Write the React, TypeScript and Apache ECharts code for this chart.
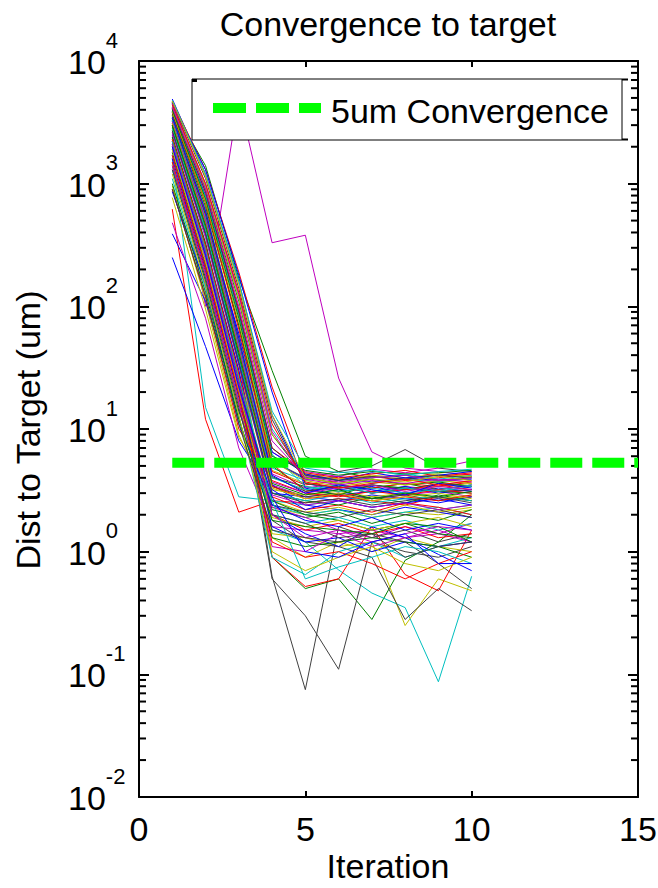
import React, { useEffect, useRef } from "react";
import * as echarts from "echarts";

// ---------- data ----------
const iterations = [1, 2, 3, 4, 5, 6, 7, 8, 9, 10];

const blueRuns = [
  [4900, 1200, 160, 13, 3.6, 3.2, 3.4, 3.0, 3.3, 3.1],
  [250, 47, 8, 3.0, 2.8, 2.6, 2.9, 2.7, 2.5, 2.8],
  [390, 110, 14, 3.5, 2.4, 2.2, 2.0, 2.3, 2.1, 1.9],
  [3200, 520, 60, 5.5, 3.9, 4.1, 3.7, 4.0, 3.8, 3.9],
  [2200, 300, 30, 2.0, 1.4, 1.1, 1.6, 1.3, 0.95, 0.7],
  [3900, 800, 90, 6.5, 4.3, 3.8, 4.4, 4.0, 4.2, 4.5],
  [1600, 200, 18, 1.6, 1.2, 1.3, 1.0, 1.2, 1.1, 1.2],
  [4500, 1300, 180, 20, 3.3, 2.9, 3.1, 3.4, 3.0, 3.2],
  [2600, 380, 35, 3.2, 2.2, 2.6, 2.3, 2.5, 2.7, 2.4],
  [860, 150, 11, 2.4, 1.8, 1.6, 1.9, 1.5, 1.7, 1.5],
  [3500, 600, 55, 4.2, 3.0, 3.5, 3.2, 2.9, 3.6, 3.3],
  [2000, 260, 22, 2.8, 1.0, 0.9, 1.2, 1.4, 0.8, 0.8],
];

const greenRuns = [
  [4200, 1400, 170, 30, 6.0, 4.5, 4.0, 4.2, 3.8, 4.1],
  [2400, 330, 25, 0.9, 0.5, 0.6, 0.28, 0.85, 1.2, 2.0],
  [3300, 500, 45, 4.0, 3.4, 3.1, 3.3, 3.6, 3.2, 3.5],
  [1800, 220, 20, 2.2, 1.9, 2.1, 1.7, 2.0, 1.8, 2.2],
  [4600, 900, 110, 9.0, 4.0, 3.6, 3.9, 3.5, 3.7, 3.4],
  [2900, 420, 38, 3.0, 2.6, 2.4, 2.8, 2.5, 2.9, 2.6],
  [1400, 170, 15, 1.3, 1.1, 1.2, 1.3, 1.2, 1.1, 0.9],
  [3700, 650, 70, 5.0, 3.2, 2.9, 3.5, 3.3, 3.1, 3.0],
  [2100, 280, 24, 2.6, 2.0, 1.8, 1.5, 1.7, 1.4, 1.3],
  [4000, 750, 80, 6.0, 4.6, 4.2, 4.5, 4.3, 4.4, 4.6],
  [1000, 130, 12, 1.8, 1.6, 1.5, 1.4, 1.7, 1.6, 1.2],
  [3000, 460, 42, 3.6, 2.9, 3.2, 2.7, 3.0, 2.8, 3.1],
];

const redRuns = [
  [620, 12, 2.1, 2.6, 2.5, 2.7, 2.6, 2.4, 2.8, 2.6],
  [4700, 1300, 190, 22, 4.2, 3.9, 4.1, 3.8, 4.0, 4.3],
  [2700, 400, 36, 0.9, 0.52, 0.6, 1.6, 0.65, 0.48, 1.5],
  [3400, 550, 50, 4.5, 3.5, 3.8, 3.3, 3.6, 3.4, 3.7],
  [1500, 190, 16, 2.8, 2.2, 2.4, 2.1, 2.5, 2.3, 2.0],
  [4100, 850, 95, 7.0, 4.4, 4.0, 4.3, 4.6, 4.1, 4.4],
  [2300, 310, 28, 2.0, 1.5, 1.7, 1.4, 1.6, 1.3, 1.4],
  [3800, 700, 65, 5.2, 3.1, 3.4, 3.0, 3.2, 3.5, 3.2],
  [900, 120, 10, 3.8, 3.0, 2.8, 3.1, 2.9, 3.2, 3.0],
  [3100, 480, 44, 3.4, 2.7, 2.9, 2.6, 2.8, 2.6, 2.9],
  [1700, 210, 19, 1.2, 0.9, 1.0, 0.8, 0.6, 0.8, 1.0],
  [4400, 1000, 130, 11, 3.7, 3.3, 3.6, 3.9, 3.5, 3.8],
];

const cyanRuns = [
  [1600, 15, 2.8, 2.6, 2.4, 2.6, 2.3, 2.5, 2.2, 2.4],
  [3000, 450, 40, 1.5, 1.2, 0.71, 0.46, 0.35, 0.087, 0.63],
  [3600, 600, 55, 4.8, 3.8, 4.1, 3.6, 3.9, 3.7, 4.0],
  [2000, 250, 22, 2.4, 2.0, 2.2, 1.9, 2.1, 2.3, 2.0],
  [4300, 950, 120, 10, 4.2, 3.8, 4.0, 4.3, 3.9, 4.2],
  [1300, 160, 13, 0.9, 0.65, 1.0, 1.2, 0.9, 1.1, 1.3],
  [2800, 420, 37, 3.0, 2.6, 2.9, 2.5, 2.7, 2.8, 2.6],
  [3900, 780, 85, 6.2, 3.4, 3.1, 3.3, 3.0, 3.2, 3.5],
  [1100, 140, 12, 2.0, 1.7, 1.9, 1.6, 1.8, 1.5, 1.7],
  [3300, 520, 48, 4.0, 3.2, 3.5, 3.0, 3.3, 3.1, 3.4],
  [2200, 290, 26, 2.6, 0.6, 0.75, 0.9, 1.1, 1.0, 0.8],
  [4800, 1200, 160, 14, 4.8, 4.4, 4.6, 4.2, 4.5, 4.7],
];

const magentaRuns = [
  [2500, 100, 5000, 330, 380, 26, 6.5, 4.8, 4.5, 4.2],
  [3000, 450, 42, 3.5, 2.8, 3.0, 2.7, 2.9, 3.1, 2.8],
  [480, 80, 7, 1.6, 1.5, 1.4, 1.5, 1.3, 1.4, 1.2],
  [4000, 800, 85, 6.5, 4.5, 4.1, 4.7, 4.4, 4.8, 5.5],
  [1900, 240, 21, 2.3, 1.9, 1.5, 1.3, 1.6, 1.4, 1.7],
  [3500, 580, 52, 4.3, 3.3, 3.6, 3.1, 3.4, 3.2, 3.5],
  [1400, 180, 16, 1.1, 1.0, 1.4, 1.1, 1.3, 1.5, 1.2],
  [4500, 1000, 125, 9.5, 3.9, 3.5, 3.8, 3.6, 3.9, 3.7],
  [2600, 360, 33, 2.9, 2.4, 2.6, 2.3, 2.5, 2.2, 2.4],
  [3200, 500, 46, 3.7, 3.0, 3.3, 3.5, 3.1, 3.4, 3.2],
  [2100, 270, 24, 2.0, 1.3, 1.5, 1.2, 1.4, 1.6, 1.5],
  [4200, 900, 100, 8.0, 4.1, 3.7, 4.0, 4.2, 3.8, 4.0],
];

const yellowRuns = [
  [960, 110, 9, 2.3, 2.0, 2.2, 1.9, 2.1, 2.0, 2.2],
  [2800, 400, 38, 1.4, 1.3, 1.1, 1.2, 0.25, 0.6, 0.48],
  [3600, 620, 58, 4.6, 3.6, 3.3, 3.5, 3.2, 3.4, 3.6],
  [1500, 180, 17, 1.3, 0.9, 1.2, 1.0, 1.3, 1.1, 1.0],
  [4400, 950, 115, 9.0, 4.3, 3.9, 4.2, 4.0, 4.3, 4.1],
  [2300, 300, 27, 2.6, 2.1, 2.3, 2.0, 2.4, 2.1, 2.3],
  [770, 95, 8.5, 3.2, 2.9, 3.1, 2.8, 3.0, 2.7, 2.9],
  [3900, 720, 75, 5.5, 3.8, 3.4, 3.7, 3.5, 3.8, 3.6],
  [1900, 230, 20, 1.9, 1.6, 1.8, 1.5, 1.7, 1.9, 1.6],
  [3100, 470, 43, 3.3, 2.7, 3.0, 2.6, 2.8, 3.0, 2.7],
  [1200, 150, 13, 1.0, 0.7, 0.9, 1.1, 0.8, 0.7, 0.9],
  [4700, 1150, 150, 13, 4.0, 3.6, 3.9, 3.7, 4.1, 3.8],
];

const grayRuns = [
  [2400, 320, 30, 0.63, 0.075, 1.6, 1.3, 1.5, 1.2, 1.4],
  [2000, 260, 24, 0.6, 0.3, 0.11, 1.2, 1.0, 0.9, 1.1],
  [3800, 700, 70, 5.5, 4.0, 4.5, 5.0, 6.8, 4.8, 4.5],
  [1700, 210, 19, 1.8, 1.2, 1.1, 0.9, 0.28, 0.5, 0.33],
  [3000, 440, 40, 3.4, 2.8, 3.0, 2.7, 2.9, 2.6, 2.8],
  [4600, 1100, 140, 12, 3.6, 3.3, 3.5, 3.2, 3.6, 3.4],
  [1300, 160, 14, 2.4, 2.1, 1.9, 2.2, 2.0, 2.2, 1.9],
  [3400, 560, 50, 4.1, 3.1, 3.4, 3.0, 3.3, 3.1, 3.2],
  [2200, 280, 25, 2.0, 1.7, 1.3, 1.4, 1.2, 0.8, 0.5],
  [4100, 860, 90, 7.0, 4.2, 3.8, 4.1, 3.9, 4.2, 4.0],
  [900, 120, 11, 1.5, 1.3, 1.2, 1.4, 0.9, 1.1, 1.2],
  [2700, 390, 34, 3.0, 2.5, 2.7, 2.4, 2.6, 2.8, 2.5],
];

const convergenceLevel = 5.3;
const convergenceIterations = [1, 15];

const xRange = [0, 15];
const xStep = 5;
const yRange = [0.01, 10000];
const decades = [-2, -1, 0, 1, 2, 3];
const minorMultipliers = [2, 3, 4, 5, 6, 7, 8, 9];

const titleText = "Convergence to target";
const xName = "Iteration";
const yName = "Dist to Target (um)";
const legendName = "5um Convergence";

// ---------- styles ----------
const FONT = "'Liberation Sans', Arial, Helvetica, sans-serif";
const matlabColors = ["#0000ff", "#008000", "#ff0000", "#00bfbf", "#bf00bf", "#bfbf00", "#404040"];

export default function App() {
  const ref = useRef<HTMLDivElement>(null);

  useEffect(() => {
    if (!ref.current) return;
    const chart = echarts.init(ref.current, null, { renderer: "svg" });

    const groups = [blueRuns, greenRuns, redRuns, cyanRuns, magentaRuns, yellowRuns, grayRuns];
    const maxLen = Math.max(...groups.map((g) => g.length));
    const runSeries: any[] = [];
    for (let i = 0; i < maxLen; i++) {
      groups.forEach((g, c) => {
        const run = g[i];
        if (!run) return;
        runSeries.push({
          type: "line",
          data: run.map((v, k) => [iterations[k], v]),
          symbol: "none",
          showSymbol: false,
          silent: true,
          z: 2,
          lineStyle: { width: 1, color: matlabColors[c] },
          itemStyle: { color: matlabColors[c] },
          emphasis: { disabled: true },
        });
      });
    }

    const minorValues: number[] = [];
    decades.forEach((d) => minorMultipliers.forEach((m) => minorValues.push(m * Math.pow(10, d))));

    const minorTickSeries = {
      type: "custom",
      silent: true,
      z: 4,
      clip: false,
      data: minorValues.map((v) => [xRange[0], v]),
      renderItem: (_params: any, api: any) => {
        const v = api.value(1);
        const pl = api.coord([xRange[0], v]);
        const pr = api.coord([xRange[1], v]);
        return {
          type: "group",
          children: [
            { type: "line", shape: { x1: pl[0], y1: pl[1], x2: pl[0] + 7, y2: pl[1] }, style: { stroke: "#000", lineWidth: 2 } },
            { type: "line", shape: { x1: pr[0] - 7, y1: pr[1], x2: pr[0], y2: pr[1] }, style: { stroke: "#000", lineWidth: 2 } },
          ],
        };
      },
    };

    const convergenceSeries = {
      type: "line",
      name: legendName,
      data: convergenceIterations.map((x) => [x, convergenceLevel]),
      symbol: "none",
      silent: true,
      z: 6,
      lineStyle: { color: "#00ff00", width: 10, type: [32, 10], cap: "butt" },
      itemStyle: { color: "#00ff00" },
    };

    const axisLine = { show: true, onZero: false, lineStyle: { color: "#000", width: 2 } };

    const option: any = {
      animation: false,
      backgroundColor: "#ffffff",
      grid: { left: 139, top: 61, right: 20, bottom: 91, containLabel: false, outerBoundsMode: "none" },
      xAxis: [
        {
          type: "value",
          min: xRange[0],
          max: xRange[1],
          interval: xStep,
          position: "bottom",
          axisLine,
          axisTick: { show: true, inside: true, length: 6, lineStyle: { color: "#000", width: 2 } },
          axisLabel: { color: "#000", fontSize: 34, fontFamily: FONT, margin: 15, lineHeight: 34 },
          splitLine: { show: false },
        },
        {
          type: "value",
          min: xRange[0],
          max: xRange[1],
          interval: xStep,
          position: "top",
          axisLine,
          axisTick: { show: true, inside: true, length: 6, lineStyle: { color: "#000", width: 2 } },
          axisLabel: { show: false },
          splitLine: { show: false },
        },
      ],
      yAxis: [
        {
          type: "log",
          logBase: 10,
          min: yRange[0],
          max: yRange[1],
          splitNumber: 6,
          position: "left",
          axisLine,
          axisTick: { show: true, inside: true, length: 10, lineStyle: { color: "#000", width: 2 } },
          axisLabel: {
            align: "left",
            verticalAlign: "middle",
            margin: 71,
            padding: [20, 0, 0, 0],
            formatter: (v: number) => `{b|10}{s|${Math.round(Math.log10(v))}}`,
            rich: {
              b: { fontSize: 34, fontFamily: FONT, color: "#000", lineHeight: 34, padding: [0, 0, 9, 0], verticalAlign: "bottom" },
              s: { fontSize: 22, fontFamily: FONT, color: "#000", lineHeight: 22, padding: [0, 0, 37, 0], verticalAlign: "bottom" },
            },
          },
          splitLine: { show: false },
        },
        {
          type: "log",
          logBase: 10,
          min: yRange[0],
          max: yRange[1],
          splitNumber: 6,
          position: "right",
          axisLine,
          axisTick: { show: true, inside: true, length: 10, lineStyle: { color: "#000", width: 2 } },
          axisLabel: { show: false },
          splitLine: { show: false },
        },
      ],
      series: [...runSeries, minorTickSeries, convergenceSeries],
      graphic: [
        {
          type: "text",
          x: 388,
          y: 24,
          z: 50,
          style: { text: titleText, fontSize: 34, fontFamily: FONT, fill: "#000", align: "center", verticalAlign: "middle" },
        },
        {
          type: "text",
          x: 28,
          y: 430,
          rotation: Math.PI / 2,
          z: 50,
          style: { text: yName, fontSize: 34, fontFamily: FONT, fill: "#000", align: "center", verticalAlign: "middle" },
        },
        {
          type: "text",
          x: 388,
          y: 866,
          z: 50,
          style: { text: xName, fontSize: 34, fontFamily: FONT, fill: "#000", align: "center", verticalAlign: "middle" },
        },
        {
          type: "rect",
          z: 50,
          shape: { x: 192, y: 79, width: 430, height: 61 },
          style: { fill: "#ffffff", stroke: "#000", lineWidth: 1 },
        },
        { type: "rect", z: 51, shape: { x: 192, y: 79, width: 5, height: 3 }, style: { fill: "#000" } },
        { type: "line", z: 51, shape: { x1: 622, y1: 79.5, x2: 628, y2: 79.5 }, style: { stroke: "#000", lineWidth: 2 } },
        { type: "line", z: 51, shape: { x1: 622, y1: 139.5, x2: 628, y2: 139.5 }, style: { stroke: "#000", lineWidth: 2 } },
        {
          type: "line",
          z: 51,
          shape: { x1: 213, y1: 108, x2: 321, y2: 108 },
          style: { stroke: "#00ff00", lineWidth: 10, lineDash: [33, 10], lineCap: "butt" },
        },
        {
          type: "text",
          x: 331,
          y: 111,
          z: 51,
          style: { text: legendName, fontSize: 34, fontFamily: FONT, fill: "#000", align: "left", verticalAlign: "middle" },
        },
      ],
    };

    chart.setOption(option);
    return () => chart.dispose();
  }, []);

  return <div ref={ref} style={{ position: "fixed", left: 0, top: 0, width: 658, height: 888 }} />;
}
